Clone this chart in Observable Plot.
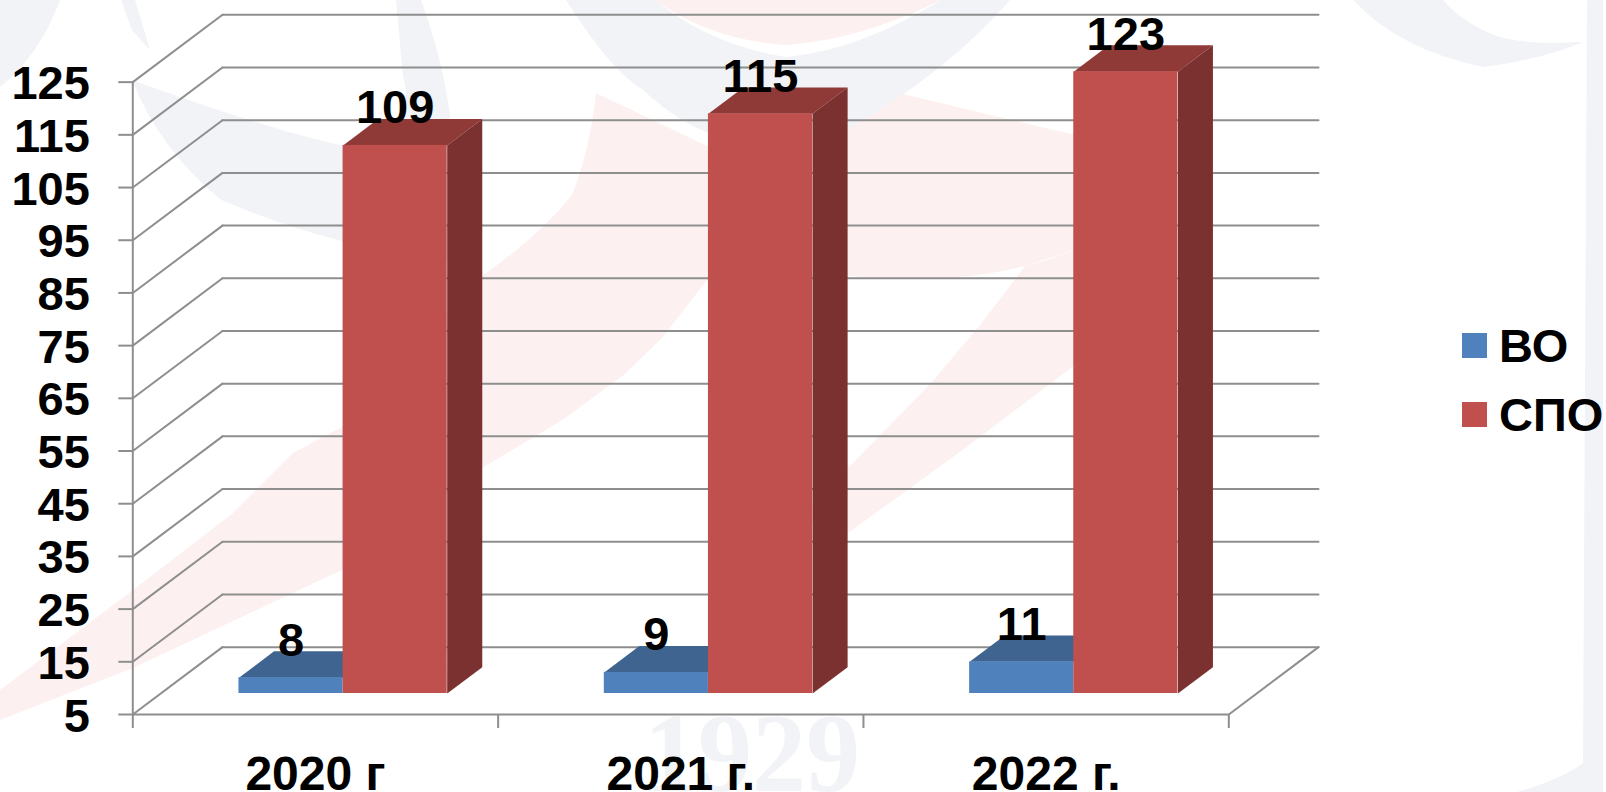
<!DOCTYPE html>
<html>
<head>
<meta charset="utf-8">
<script src="https://cdn.jsdelivr.net/npm/d3@7"></script>
<script src="https://cdn.jsdelivr.net/npm/@observablehq/plot@0.6"></script>
<style>
  html, body { margin: 0; padding: 0; background: #fff; overflow: hidden; width: 1606px; height: 792px; }
  #stage { position: relative; width: 1606px; height: 792px; font-family: "Liberation Sans", Arial, sans-serif; }
  #bg { position: absolute; left: 0; top: 0; }
  #chart { position: absolute; left: 0; top: 0; }
  #chart svg { background: transparent; overflow: visible; }
  .legend-row { position: absolute; left: 1462px; height: 25px; display: flex; align-items: center; }
  .swatch { width: 25px; height: 25px; margin-right: 12px; flex: none; }
  .legend-row span { font: bold 47px "Liberation Sans", Arial, sans-serif; color: #000; line-height: 25px; }
</style>
</head>
<body>
<div id="stage">
  <svg id="bg" width="1606" height="792" viewBox="0 0 1606 792">
    <g fill="#fcf1f0">
      <path d="M0,690 L133,590 L233,513 L293,453 L342,427 L482,276 Q540,235 572,195 Q590,150 596,93 L707,146 L850,120 L899,93 L1075,135 L1075,250 L1025,266 Q950,285 848,276 L707,280 L662,338 L625,374 L564,419 L482,468 L342,570 L133,668 L0,720 Z"/>
      <path d="M800,520 L848,468 L932,382 L980,325 L1025,266 Q1050,260 1075,250 L1075,365 L960,452 L848,533 Z"/>
      <path d="M655,0 L941,0 Q860,40 786,45 Q710,40 655,0 Z"/>
    </g>
    <g fill="#f1f3f7">
      <path d="M0,0 L60,0 Q40,55 0,87 Z"/>
      <path d="M132,80 Q270,130 340,145 Q420,130 403,77 L396,0 L421,0 Q450,80 453,150 L453,260 Q340,250 221,200 Q160,150 132,80 Z"/>
      <path d="M121,0 L135,0 L150,50 L132,30 Z"/>
      <path d="M566,0 L655,0 Q710,45 786,57 Q860,50 941,0 L1010,0 Q950,70 847,130 L725,139 Q680,125 643,90 Q610,70 566,0 Z"/>
      <path d="M1353,0 Q1400,50 1483,67 Q1540,60 1583,42 Q1530,45 1500,37 Q1465,25 1443,0 Z"/>
      <path d="M1587,0 L1603,0 L1603,792 L1517,792 Q1560,780 1583,763 Z"/>
      <text x="644" y="791" font-family="Liberation Serif, serif" font-weight="bold" font-size="112" textLength="216" lengthAdjust="spacingAndGlyphs">1929</text>
    </g>
  </svg>
  <div id="chart"></div>
  <div class="legend-row" style="top:333px"><div class="swatch" style="background:#4F81BD"></div><span>ВО</span></div>
  <div class="legend-row" style="top:402px"><div class="swatch" style="background:#C0504D"></div><span>СПО</span></div>
</div>
<script>
const categories = ["2020 г", "2021 г.", "2022 г."];
const valuesVO = [8, 9, 11];
const valuesSPO = [109, 115, 123];
const yTicks = [5, 15, 25, 35, 45, 55, 65, 75, 85, 95, 105, 115, 125];
const xTicks = [0, 1, 2, 3];
const categoryCenters = [0.5, 1.5, 2.5];

// Oblique 3D projection expressed in data units
const depthX = 0.2455, depthY = 12.78;
const floor = 5, depthFront = 0.312, depthBack = 0.703, barW = 0.285;
const shiftX = depthFront * depthX - 0.001;

const grid = "#8e8e8e";
const colors = {
  vo: { front: "#4F81BD", top: "#3F6490" },
  spo: { front: "#C0504D", top: "#903A38", side: "#7B3130" }
};

const rows = categories.flatMap((c, i) => [
  { series: "vo", c, v: valuesVO[i], x1: i + 0.5 - barW + shiftX, x2: i + 0.5 + shiftX },
  { series: "spo", c, v: valuesSPO[i], x1: i + 0.5 + shiftX, x2: i + 0.5 + barW + shiftX }
]);
const dx = (depthBack - depthFront) * depthX;
const dv = (depthBack - depthFront) * depthY;
const topY = (r) => r.v + depthFront * depthY;
const baseY = floor + depthFront * depthY;

function poly(items, maker, color) {
  const pts = items.flatMap((r, i) => maker(r).map(([x, y]) => ({ x, y, id: i })));
  return Plot.line(pts, { x: "x", y: "y", z: "id", fill: color, stroke: "none", curve: "linear-closed" });
}
const topFace = (r) => [[r.x1, topY(r)], [r.x2, topY(r)], [r.x2 + dx, topY(r) + dv], [r.x1 + dx, topY(r) + dv]];
const sideFace = (r) => [[r.x2, baseY], [r.x2, topY(r)], [r.x2 + dx, topY(r) + dv], [r.x2 + dx, baseY + dv]];

const vo = rows.filter((r) => r.series === "vo");
const spo = rows.filter((r) => r.series === "spo");

const backLines = yTicks.flatMap((v) => [
  { v, x: depthX, y: v + depthY },
  { v, x: 3 + depthX, y: v + depthY }
]);
const sideLines = yTicks.flatMap((v) => [
  { v, x: 0, y: v },
  { v, x: depthX, y: v + depthY }
]);
const frame = [
  Plot.line([{ x: 0, y: 5 }, { x: 0, y: 125 }], { x: "x", y: "y", stroke: grid, strokeWidth: 2 }),
  Plot.line([{ x: 0, y: 5 }, { x: 3, y: 5 }, { x: 3 + depthX, y: 5 + depthY }], { x: "x", y: "y", stroke: grid, strokeWidth: 2 })
];

const chart = Plot.plot({
  width: 1606,
  height: 792,
  marginLeft: 132.3,
  marginRight: 288,
  marginTop: 14.3,
  marginBottom: 78,
  x: { type: "linear", domain: [0, 3 + depthX], axis: null },
  y: { type: "linear", domain: [5, 125 + depthY], axis: null },
  style: { fontFamily: "'Liberation Sans', Arial, sans-serif", fontWeight: "bold", background: "transparent", color: "#000" },
  marks: [
    Plot.line(backLines, { x: "x", y: "y", z: "v", stroke: grid, strokeWidth: 2 }),
    Plot.line(sideLines, { x: "x", y: "y", z: "v", stroke: grid, strokeWidth: 2 }),
    ...frame,
    Plot.axisY({ ticks: yTicks, tickSize: 14, fill: "none", stroke: grid, strokeWidth: 2, label: null }),
    Plot.axisY({ ticks: yTicks, tickSize: 0, tickPadding: 43, dy: 2, fontSize: 47, label: null, fill: "#000" }),
    Plot.axisX({ ticks: xTicks, tickSize: 14, fill: "none", stroke: grid, strokeWidth: 2, label: null }),
    Plot.axisX({ ticks: categoryCenters, tickSize: 0, tickPadding: 41, fontSize: 48, label: null, fill: "#000",
      tickFormat: (d) => categories[categoryCenters.indexOf(d)] }),
    poly(vo, topFace, colors.vo.top),
    Plot.rect(vo, { x1: "x1", x2: "x2", y1: baseY, y2: topY, fill: colors.vo.front, inset: 0 }),
    poly(spo, topFace, colors.spo.top),
    poly(spo, sideFace, colors.spo.side),
    Plot.rect(spo, { x1: "x1", x2: "x2", y1: baseY, y2: topY, fill: colors.spo.front, inset: 0 }),
    Plot.text(rows, {
      x: (r) => (r.x1 + r.x2) / 2,
      y: topY,
      text: (r) => String(r.v),
      dy: -37,
      fontSize: 47,
      fill: "#000",
      textAnchor: "middle",
      lineAnchor: "middle"
    })
  ]
});
document.getElementById("chart").appendChild(chart);
</script>
</body>
</html>
